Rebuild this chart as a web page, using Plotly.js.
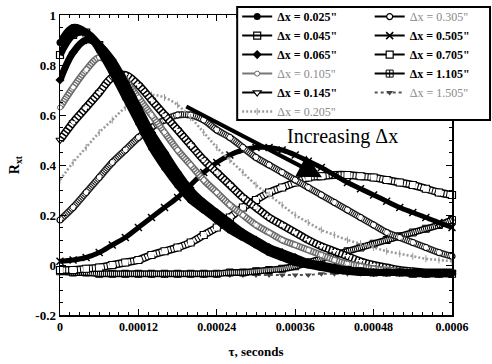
<!DOCTYPE html>
<html>
<head>
<meta charset="utf-8">
<script src="https://cdn.plot.ly/plotly-3.0.1.min.js"></script>
<style>
  html, body { margin: 0; padding: 0; background: #fff; }
  #chart { width: 492px; height: 364px; }
</style>
</head>
<body>
<div id="chart"></div>
<script>
// Time lag, seconds
const tau = [0, 0.00002, 0.00004, 0.00006, 0.00008, 0.0001, 0.00012, 0.00014, 0.00016, 0.00018,
  0.0002, 0.00022, 0.00024, 0.00026, 0.00028, 0.0003, 0.00032, 0.00034, 0.00036, 0.00038,
  0.0004, 0.00042, 0.00044, 0.00046, 0.00048, 0.0005, 0.00052, 0.00054, 0.00056, 0.00058, 0.0006];

// Cross-correlation R_xt for each probe spacing
const dx025 = [0.89,0.95,0.93,0.86,0.77,0.67,0.57,0.47,0.39,0.32,0.26,0.22,0.18,0.14,0.11,0.08,0.05,0.03,0.01,0.00,-0.01,-0.02,-0.025,-0.03,-0.03,-0.03,-0.03,-0.03,-0.03,-0.03,-0.03];
const dx045 = [0.84,0.92,0.93,0.88,0.80,0.70,0.60,0.50,0.42,0.34,0.28,0.23,0.19,0.15,0.12,0.09,0.06,0.04,0.02,0.005,-0.005,-0.015,-0.02,-0.025,-0.03,-0.03,-0.03,-0.035,-0.035,-0.035,-0.035];
const dx065 = [0.74,0.85,0.90,0.88,0.82,0.73,0.63,0.53,0.45,0.37,0.30,0.25,0.21,0.17,0.13,0.10,0.07,0.05,0.03,0.01,0.00,-0.01,-0.02,-0.025,-0.03,-0.03,-0.03,-0.03,-0.035,-0.035,-0.035];
const dx105 = [0.63,0.71,0.78,0.83,0.80,0.74,0.67,0.60,0.53,0.46,0.40,0.34,0.29,0.24,0.20,0.16,0.13,0.10,0.08,0.06,0.04,0.02,0.005,-0.005,-0.015,-0.02,-0.025,-0.03,-0.03,-0.03,-0.03];
const dx145 = [0.50,0.57,0.63,0.69,0.75,0.76,0.72,0.66,0.60,0.54,0.48,0.42,0.37,0.32,0.27,0.23,0.19,0.16,0.13,0.10,0.075,0.055,0.035,0.015,0.0,-0.01,-0.02,-0.025,-0.03,-0.03,-0.03];
const dx205 = [0.34,0.41,0.47,0.53,0.58,0.63,0.66,0.68,0.67,0.64,0.59,0.53,0.47,0.42,0.37,0.32,0.28,0.24,0.20,0.17,0.14,0.12,0.10,0.085,0.07,0.055,0.045,0.035,0.025,0.02,0.015];
const dx305 = [0.18,0.23,0.29,0.35,0.41,0.46,0.51,0.55,0.58,0.60,0.60,0.58,0.54,0.51,0.47,0.43,0.40,0.37,0.34,0.31,0.28,0.25,0.22,0.19,0.16,0.13,0.11,0.09,0.07,0.05,0.035];
const dx505 = [0.015,0.02,0.03,0.05,0.08,0.11,0.15,0.19,0.23,0.27,0.32,0.37,0.41,0.44,0.46,0.47,0.47,0.46,0.44,0.415,0.39,0.36,0.33,0.305,0.28,0.255,0.23,0.21,0.19,0.17,0.15];
const dx705 = [-0.02,-0.02,-0.015,-0.01,0.00,0.01,0.02,0.04,0.055,0.07,0.09,0.12,0.15,0.19,0.23,0.26,0.29,0.31,0.33,0.35,0.355,0.36,0.36,0.355,0.35,0.34,0.33,0.32,0.305,0.29,0.28];
const dx1105 = [-0.025,-0.03,-0.03,-0.035,-0.035,-0.035,-0.035,-0.035,-0.035,-0.035,-0.035,-0.035,-0.035,-0.03,-0.03,-0.025,-0.02,-0.015,-0.005,0.01,0.025,0.04,0.055,0.07,0.085,0.10,0.115,0.13,0.145,0.16,0.18];
const dx1505 = [-0.03,-0.03,-0.035,-0.035,-0.035,-0.04,-0.04,-0.04,-0.04,-0.04,-0.04,-0.04,-0.04,-0.04,-0.04,-0.04,-0.04,-0.04,-0.04,-0.04,-0.035,-0.035,-0.035,-0.035,-0.03,-0.03,-0.03,-0.03,-0.03,-0.025,-0.025];

const xTickVals = [0, 0.00012, 0.00024, 0.00036, 0.00048, 0.0006];
const xTickText = ['0', '0.00012', '0.00024', '0.00036', '0.00048', '0.0006'];
const yTickVals = [-0.2, 0, 0.2, 0.4, 0.6, 0.8, 1];
const yTickText = ['-0.2', '0', '0.2', '0.4', '0.6', '0.8', '1'];

const BLACK = '#000';
const grey = s => '<span style="color:#8a8a8a;font-weight:normal">' + s + '</span>';

// One probe spacing: a wide band under the curve (dense-marker look),
// the legend-carrying curve itself, and an optional white dashed core
// that turns the band into a hollow "ladder" like open markers.
function series(y, name, legend, o) {
  const out = [];
  const base = { type: 'scatter', x: tau, y: y, cliponaxis: false, hoverinfo: 'skip' };
  if (o.band) {
    out.push(Object.assign({}, base, {
      mode: 'lines', showlegend: false,
      line: { color: o.band.color || BLACK, width: o.band.width, shape: 'spline' }
    }));
  }
  out.push(Object.assign({}, base, {
    mode: 'lines+markers', name: name, legend: legend,
    line: Object.assign({ color: BLACK, width: 2, shape: 'spline' }, o.line || {}),
    marker: o.marker
  }));
  if (o.core) {
    out.push(Object.assign({}, base, {
      mode: 'lines', showlegend: false,
      line: { color: '#fff', width: o.core.width, dash: o.core.dash, shape: 'spline' }
    }));
  }
  return out;
}

const traces = [].concat(
  series(dx1505, grey('Δx = 1.505"'), 'legend2', {
    line: { color: '#555', width: 2, dash: 'dot' },
    marker: { symbol: 'triangle-down', size: 6, color: '#444' } }),
  series(dx1105, 'Δx = 1.105"', 'legend2', {
    band: { width: 7 }, core: { width: 4, dash: '1px,1px' },
    marker: { symbol: 'square-cross-open', size: 7, color: BLACK, line: { width: 1 } } }),
  series(dx705, 'Δx = 0.705"', 'legend2', {
    band: { width: 8 }, core: { width: 5, dash: '2px,1px' },
    marker: { symbol: 'square', size: 7, color: '#fff', line: { color: BLACK, width: 1.2 } } }),
  series(dx505, 'Δx = 0.505"', 'legend2', {
    band: { width: 5 },
    marker: { symbol: 'x-thin-open', size: 7, color: BLACK, line: { color: BLACK, width: 1.5 } } }),
  series(dx305, grey('Δx = 0.305"'), 'legend2', {
    band: { width: 7, color: '#222' }, core: { width: 4, dash: '1px,1px' },
    marker: { symbol: 'circle', size: 6, color: '#fff', line: { color: BLACK, width: 1.2 } } }),
  series(dx205, grey('Δx = 0.205"'), 'legend', {
    line: { color: '#9a9a9a', width: 2.5, dash: '2px,2px' },
    marker: { symbol: 'line-ns-open', size: 5, color: '#9a9a9a', line: { color: '#9a9a9a', width: 1 } } }),
  series(dx145, 'Δx = 0.145"', 'legend', {
    band: { width: 8 }, core: { width: 5, dash: '2px,1.5px' },
    marker: { symbol: 'triangle-down', size: 7, color: '#fff', line: { color: BLACK, width: 1.2 } } }),
  series(dx105, grey('Δx = 0.105"'), 'legend', {
    band: { width: 7, color: '#6a6a6a' }, core: { width: 4, dash: '1px,1.5px' },
    line: { color: '#777' },
    marker: { symbol: 'circle', size: 5, color: '#fff', line: { color: '#666', width: 1 } } }),
  series(dx065, 'Δx = 0.065"', 'legend', {
    band: { width: 7 },
    marker: { symbol: 'diamond', size: 7, color: BLACK } }),
  series(dx045, 'Δx = 0.045"', 'legend', {
    band: { width: 7 },
    marker: { symbol: 'square-open', size: 7, color: BLACK, line: { width: 1.2 } } }),
  series(dx025, 'Δx = 0.025"', 'legend', {
    band: { width: 7 },
    marker: { symbol: 'circle', size: 7, color: BLACK } })
);

// legend order: top to bottom in each column
const ranks = { 'legend': ['0.025', '0.045', '0.065', '0.105', '0.145', '0.205'],
                'legend2': ['0.305', '0.505', '0.705', '1.105', '1.505'] };
traces.forEach(t => {
  if (t.name) {
    const key = t.name.match(/\d\.\d+/)[0];
    t.legendrank = ranks[t.legend].indexOf(key) + 1;
  }
});

const serif = 'Liberation Serif, Times New Roman, serif';
const legendFont = { family: serif, size: 12, color: BLACK, weight: 'bold' };

const layout = {
  width: 492, height: 364,
  margin: { l: 60, r: 40, t: 15, b: 49, autoexpand: false },
  paper_bgcolor: '#fff', plot_bgcolor: '#fff',
  showlegend: true,
  font: { family: serif, color: BLACK },
  xaxis: {
    range: [0, 0.0006], tickvals: xTickVals, ticktext: xTickText,
    ticks: 'inside', ticklen: 6, tickwidth: 1, tickcolor: BLACK,
    showline: true, linecolor: BLACK, linewidth: 1.5, mirror: 'ticks',
    showgrid: false, zeroline: false,
    minor: { dtick: 0.000015, ticks: 'inside', ticklen: 3, tickcolor: BLACK, tickwidth: 1 },
    tickfont: { family: serif, size: 12, weight: 'bold' },
    title: { text: 'τ, seconds', font: { family: serif, size: 13, weight: 'bold' }, standoff: 14 }
  },
  yaxis: {
    range: [-0.2, 1], tickvals: yTickVals, ticktext: yTickText,
    ticks: 'inside', ticklen: 6, tickwidth: 1, tickcolor: BLACK,
    showline: true, linecolor: BLACK, linewidth: 1.5, mirror: 'ticks',
    showgrid: false, zeroline: false,
    minor: { dtick: 0.05, ticks: 'inside', ticklen: 3, tickcolor: BLACK, tickwidth: 1 },
    tickfont: { family: serif, size: 13, weight: 'bold' },
    title: { text: 'R<sub>xt</sub>', font: { family: serif, size: 14, weight: 'bold' }, standoff: 12 }
  },
  legend: {
    x: 0.452, xanchor: 'left', y: 1.043, yanchor: 'top',
    bgcolor: 'rgba(0,0,0,0)', borderwidth: 0, font: legendFont, tracegroupgap: 0
  },
  legend2: {
    x: 0.79, xanchor: 'left', y: 1.043, yanchor: 'top',
    bgcolor: 'rgba(0,0,0,0)', borderwidth: 0, font: legendFont, tracegroupgap: 0
  },
  shapes: [{
    type: 'rect', xref: 'paper', yref: 'paper',
    x0: 0.452, x1: 1.097, y0: 0.65, y1: 1.027,
    fillcolor: '#fff', line: { color: BLACK, width: 2 }, layer: 'above'
  }],
  annotations: [
    {
      xref: 'x', yref: 'y', axref: 'x', ayref: 'y',
      x: 0.000401, y: 0.351, ax: 0.000191, ay: 0.637,
      text: '', showarrow: true, arrowhead: 2, arrowsize: 1.2, arrowwidth: 4, arrowcolor: BLACK
    },
    {
      xref: 'x', yref: 'y', x: 0.000432, y: 0.515,
      text: 'Increasing Δx', showarrow: false,
      font: { family: serif, size: 20, color: BLACK }
    }
  ]
};

Plotly.newPlot('chart', traces, layout, { displayModeBar: false, staticPlot: true });
</script>
</body>
</html>
